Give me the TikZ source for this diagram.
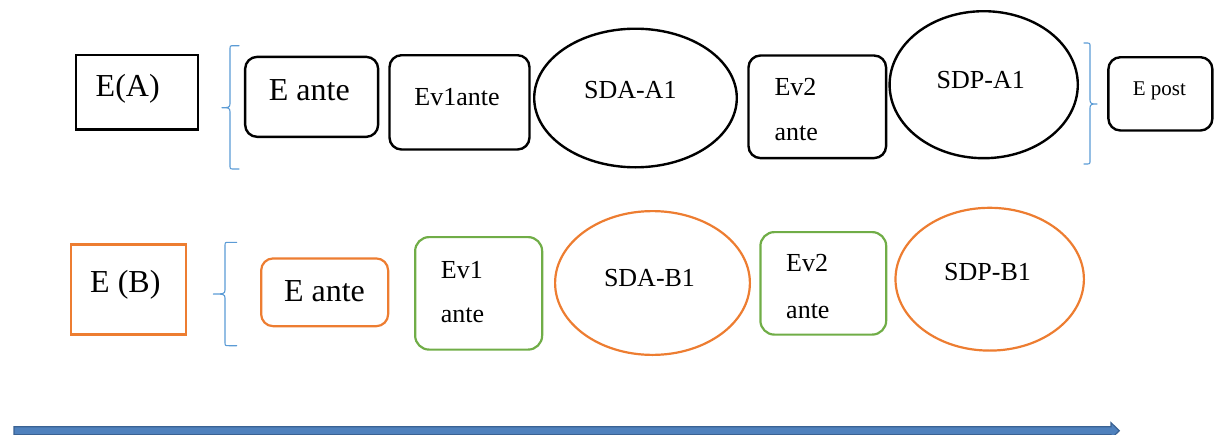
\documentclass[tikz,border=0pt]{standalone}
\usepackage{fontspec}
\setmainfont{Liberation Serif}
\usetikzlibrary{shapes.geometric,calc}

\definecolor{boxorange}{HTML}{ED7D31}
\definecolor{boxgreen}{HTML}{70AD47}
\definecolor{bracket}{HTML}{5B9BD5}
\definecolor{barfill}{HTML}{4F81BD}
\definecolor{baredge}{HTML}{3A6293}

\begin{document}
\begin{tikzpicture}[x=1pt,y=-1pt,
  plainbox/.style={draw=black, line width=2.4pt, rectangle, inner sep=0pt},
  roundbox/.style={plainbox, rounded corners=12pt},
  oval/.style={draw=black, line width=2.4pt, ellipse, inner sep=0pt},
  orangebox/.style={draw=boxorange, line width=2.2pt, rectangle, inner sep=0pt},
  orangeround/.style={orangebox, rounded corners=12pt},
  greenround/.style={draw=boxgreen, line width=2.2pt, rectangle, inner sep=0pt, rounded corners=14pt},
  orangeoval/.style={draw=boxorange, line width=2.2pt, ellipse, inner sep=0pt},
  txt/.style={inner sep=0pt, text=black},
  bigtxt/.style={txt, font=\fontsize{32}{38}\selectfont},
  midtxt/.style={txt, font=\fontsize{26}{31}\selectfont},
  smalltxt/.style={txt, font=\fontsize{21}{25}\selectfont},
  bracepath/.style={draw=bracket, line width=1.1pt, line join=round, line cap=round},
  timebar/.style={fill=barfill, draw=baredge, line width=1.2pt, line join=miter}
]
\useasboundingbox (0,0) rectangle (1216,434);
\clip (0,0) rectangle (1216,434);

% ---------- first row: E(A) ----------
\node[plainbox, minimum width=122pt, minimum height=74.3pt] (eA) at (137.25,92.35) {};
\node[bigtxt, anchor=base] (eA-t) at (127.7,96) {E(A)};

\node[roundbox, minimum width=133pt, minimum height=80pt] (anteA) at (311.65,96.85) {};
\node[bigtxt, anchor=base] (anteA-t) at (309.3,100.7) {E ante};

\node[roundbox, minimum width=140pt, minimum height=94.3pt] (ev1A) at (459.5,102.35) {};
\node[midtxt, anchor=base] (ev1A-t) at (457,105) {Ev1ante};

\node[oval, minimum width=202.6pt, minimum height=138.6pt] (sdaA) at (635.5,98) {};
\node[midtxt, anchor=base] (sdaA-t) at (630.3,98) {SDA-A1};

\node[roundbox, minimum width=137.6pt, minimum height=102.6pt] (ev2A) at (817.3,106.8) {};
\node[midtxt, anchor=base west] (ev2A-t1) at (774.3,95) {Ev2};
\node[midtxt, anchor=base west] (ev2A-t2) at (774.3,140) {ante};

\node[oval, minimum width=188.2pt, minimum height=147pt] (sdpA) at (983.7,84.7) {};
\node[midtxt, anchor=base] (sdpA-t) at (980.8,88.3) {SDP-A1};

\node[roundbox, minimum width=104pt, minimum height=73.3pt] (postA) at (1160.4,93.85) {};
\node[smalltxt, anchor=base west] (postA-t) at (1132.7,95) {E post};

% brackets of the first row
\draw[bracepath] (239,45.7) -- (234,45.7) .. controls (230,45.7) .. (230,49.7)
  -- (230,103.7) .. controls (230,107.7) and (228,107.7) .. (222,107.7)
  .. controls (228,107.7) and (230,107.7) .. (230,111.7)
  -- (230,165) .. controls (230,169) .. (234,169) -- (239,169);
\draw[bracepath] (1084,43) -- (1086,43) .. controls (1090,43) .. (1090,47)
  -- (1090,100) .. controls (1090,104) and (1092,104) .. (1097,104)
  .. controls (1092,104) and (1090,104) .. (1090,108)
  -- (1090,160) .. controls (1090,164) .. (1086,164) -- (1084,164);

% ---------- second row: E (B) ----------
\node[orangebox, minimum width=115pt, minimum height=90pt] (eB) at (128.65,289.5) {};
\node[bigtxt, anchor=base] (eB-t) at (125.3,292.7) {E (B)};

\node[orangeround, minimum width=127pt, minimum height=67.8pt] (anteB) at (324.65,292.3) {};
\node[bigtxt, anchor=base] (anteB-t) at (324.5,301) {E ante};

\node[greenround, minimum width=127pt, minimum height=112.5pt] (ev1B) at (478.65,293.35) {};
\node[midtxt, anchor=base west] (ev1B-t1) at (440.7,278.3) {Ev1};
\node[midtxt, anchor=base west] (ev1B-t2) at (440.7,322.7) {ante};

\node[orangeoval, minimum width=194.8pt, minimum height=143.8pt] (sdaB) at (652.5,283) {};
\node[midtxt, anchor=base] (sdaB-t) at (649.5,286.7) {SDA-B1};

\node[greenround, minimum width=125.8pt, minimum height=102.5pt] (ev2B) at (823.3,283.35) {};
\node[midtxt, anchor=base west] (ev2B-t1) at (786,271.7) {Ev2};
\node[midtxt, anchor=base west] (ev2B-t2) at (786,318.3) {ante};

\node[orangeoval, minimum width=188.4pt, minimum height=142.8pt] (sdpB) at (989.7,279.2) {};
\node[midtxt, anchor=base] (sdpB-t) at (987.5,280.7) {SDP-B1};

% bracket of the second row
\draw[bracepath] (236.7,242.3) -- (229,242.3) .. controls (225,242.3) .. (225,246.3)
  -- (225,290) .. controls (225,294) and (223,294) .. (213.3,294)
  .. controls (223,294) and (225,294) .. (225,298)
  -- (225,341.7) .. controls (225,345.7) .. (229,345.7) -- (236.7,345.7);

% ---------- time axis ----------
\coordinate (tstart) at (14,430.7);
\coordinate (tend) at (1119.3,430.7);
\draw[timebar] ($(tstart)+(0,-4)$) -- ($(tend)+(-8.3,-4)$) -- ($(tend)+(-8.3,-8)$)
  -- (tend) -- ($(tend)+(-8.3,8)$) -- ($(tend)+(-8.3,4)$) -- ($(tstart)+(0,4)$) -- cycle;
\end{tikzpicture}
\end{document}
